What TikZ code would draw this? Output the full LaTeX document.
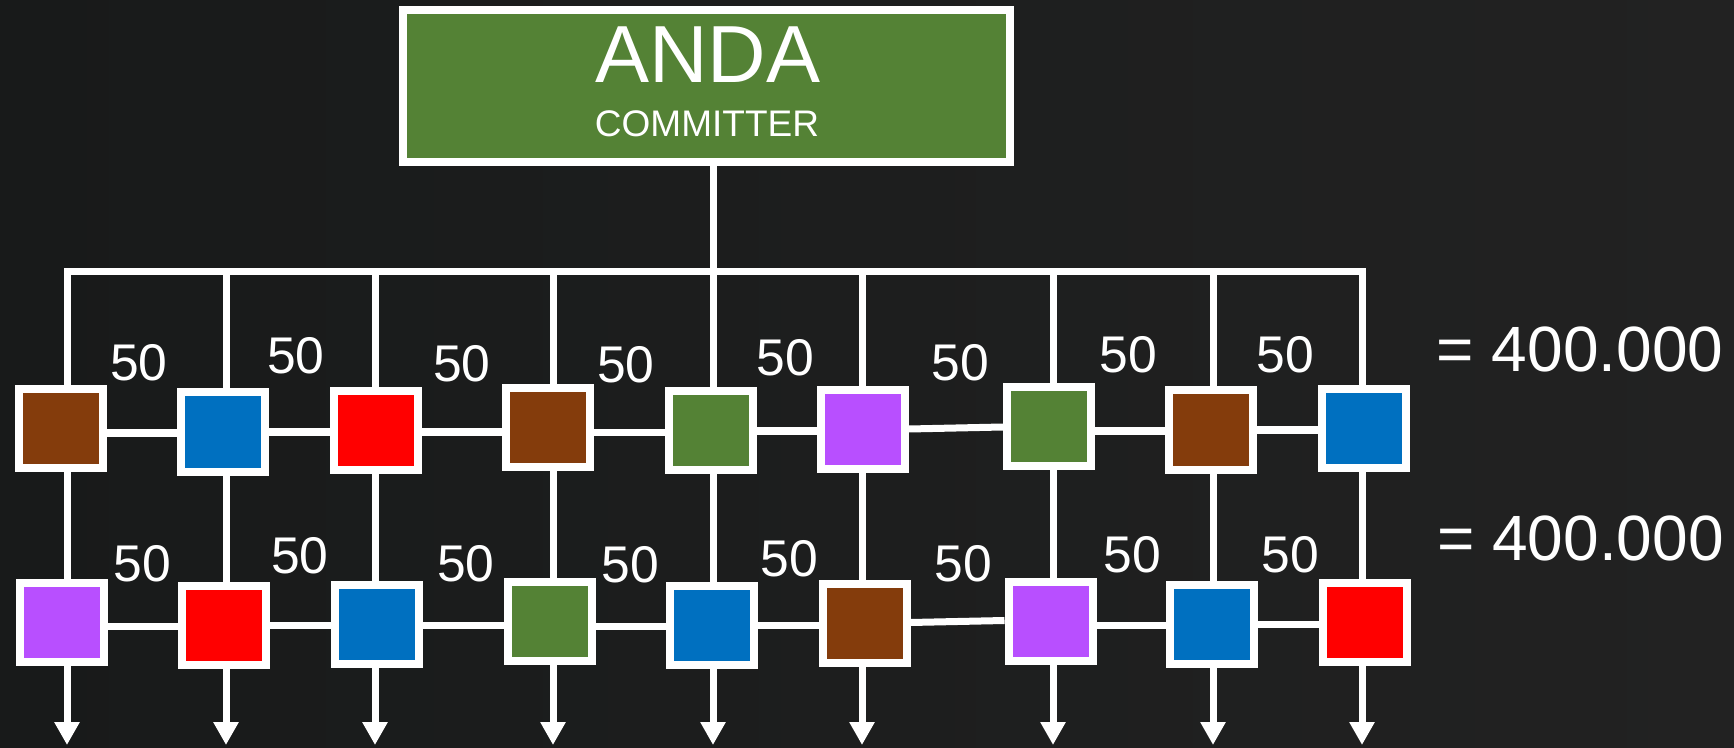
\documentclass[tikz,border=0pt]{standalone}
\usepackage{fontspec}
\setmainfont{Liberation Sans}
\usetikzlibrary{arrows.meta}
\definecolor{bgl}{HTML}{181A1A}
\definecolor{bgr}{HTML}{222222}
\definecolor{cbrown}{HTML}{843C0C}
\definecolor{cblue}{HTML}{0070C0}
\definecolor{cred}{HTML}{FF0000}
\definecolor{cgreen}{HTML}{548235}
\definecolor{cpurple}{HTML}{B84FFF}
\begin{document}
\begin{tikzpicture}[x=0.5pt,y=-0.5pt,
  blk/.style={draw=white, line width=4pt, minimum width=42pt, minimum height=39.5pt, inner sep=0pt},
  wire/.style={draw=white, line width=3.5pt},
  down/.style={wire, -{Triangle[length=11.5pt 0 0, width=12pt 0 0]}},
  num/.style={text=white, font=\fontsize{25.8}{30}\selectfont, inner sep=0pt},
  total/.style={text=white, font=\fontsize{32}{38}\selectfont, inner sep=0pt}]
\useasboundingbox (0,0) rectangle (1734,748);
\shade[left color=bgl, right color=bgr] (0,0) rectangle (1734,748);

% committer box
\node[draw=white, line width=4pt, fill=cgreen, minimum width=303.5pt, minimum height=76pt, inner sep=0pt] (anda) at (706.5,86) {};
\node[text=white, font=\fontsize{40.5}{48}\selectfont, anchor=base, inner sep=0pt] (andat) at (708,83) {ANDA};
\node[text=white, font=\fontsize{18.5}{22}\selectfont, anchor=base, inner sep=0pt] (andas) at (707,137) {COMMITTER};

% top row
\foreach \i/\x/\y/\c in {1/61/428.5/cbrown, 2/223/432/cblue, 3/376/430.5/cred, 4/548/427.5/cbrown, 5/710.5/430.5/cgreen, 6/863/429.5/cpurple, 7/1049/426.5/cgreen, 8/1210.5/430/cbrown, 9/1363.5/428.5/cblue}
  \node[blk, fill=\c] (t\i) at (\x,\y) {};
% bottom row
\foreach \i/\x/\y/\c in {1/62/622.5/cpurple, 2/224/625.5/cred, 3/377/624.5/cblue, 4/550/621.5/cgreen, 5/711.5/625/cblue, 6/864.5/623.5/cbrown, 7/1050.5/621/cpurple, 8/1211.5/624/cblue, 9/1364.5/622.5/cred}
  \node[blk, fill=\c] (b\i) at (\x,\y) {};

% column coordinates
\foreach \i/\x in {1/67, 2/226, 3/375, 4/553, 5/713, 6/862, 7/1053, 8/1213, 9/1362} {
  \coordinate (L\i) at (\x,272);
  \coordinate (A\i) at (\x,745);
}

% bus and trunk
\draw[wire, line cap=rect] (L1) -- (L9);
\draw[wire] (anda.south -| L5) -- (L5);

% verticals
\foreach \i in {1,...,9} {
  \draw[wire] (L\i) -- (t\i.north -| L\i);
  \draw[wire] (t\i.south -| L\i) -- (b\i.north -| L\i);
  \draw[down] (b\i.south -| L\i) -- (A\i);
}

% horizontal links
\foreach \i/\j/\ya/\yb in {1/2/433/433, 2/3/432/432, 3/4/432/432, 4/5/432.5/432.5, 5/6/431/431, 6/7/429/427, 7/8/431/431, 8/9/430/430} {
  \coordinate (ya) at (0,\ya);
  \coordinate (yb) at (0,\yb);
  \draw[wire] (t\i.east |- ya) -- (t\j.west |- yb);
}
\foreach \i/\j/\ya/\yb in {1/2/626/626, 2/3/625.5/625.5, 3/4/625.5/625.5, 4/5/626/626, 5/6/625/625, 6/7/622.5/620.5, 7/8/625/625, 8/9/624/624} {
  \coordinate (ya) at (0,\ya);
  \coordinate (yb) at (0,\yb);
  \draw[wire] (b\i.east |- ya) -- (b\j.west |- yb);
}

% labels
\foreach \k/\x/\y in {1/139/363, 2/296/356, 3/462/364, 4/626/365, 5/785/358, 6/960/363, 7/1128/355, 8/1285/355}
  \node[num] (nt\k) at (\x,\y) {50};
\foreach \k/\x/\y in {1/142.5/563.5, 2/300/555.5, 3/466/564, 4/630/565, 5/789/559, 6/963/564, 7/1132/555, 8/1290/555}
  \node[num] (nb\k) at (\x,\y) {50};

\node[total] (sumt) at (1580,349) {= 400.000};
\node[total] (sumb) at (1580.5,538.5) {= 400.000};
\end{tikzpicture}
\end{document}
